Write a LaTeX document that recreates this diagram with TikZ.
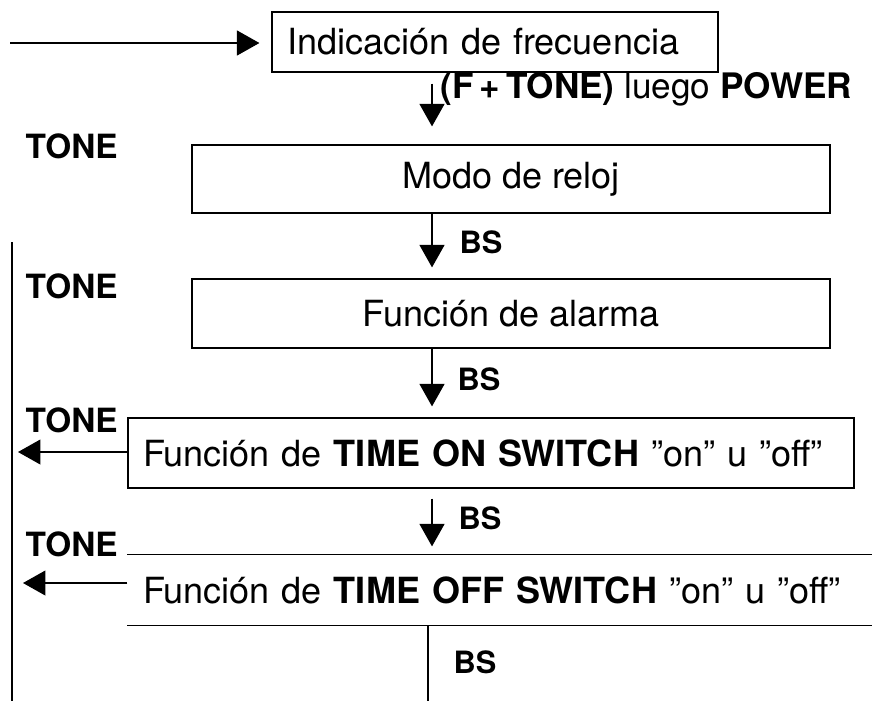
\documentclass[tikz,border=0pt]{standalone}
\usepackage{fontspec}
\setmainfont{TeX Gyre Heros}
\usetikzlibrary{arrows.meta}

\begin{document}
\begin{tikzpicture}[x=0.02cm, y=-0.02cm, line width=0.7pt,
  >={Triangle[length=0.45cm,width=0.5cm]},
  box/.style={draw, inner xsep=0.3cm, font=\fontsize{20.5}{24}\selectfont},
  cond/.style={font=\fontsize{20}{24}\selectfont, inner sep=0pt, anchor=west},
  lbl/.style={font=\bfseries\fontsize{17.5}{20}\selectfont, inner sep=0pt, anchor=west},
  tone/.style={font=\bfseries\fontsize{19}{22}\selectfont, inner sep=0pt, anchor=west}]
\useasboundingbox (0,0) rectangle (872,701);
% boxes
\node[box, text width=8.32cm, align=left, minimum height=1.2cm] (freq) at (495,42) {Indicación de frecuencia};
\node[box, minimum width=12.76cm, minimum height=1.36cm] (clock) at (511,179) {Modo de reloj};
\node[box, minimum width=12.76cm, minimum height=1.38cm] (alarm) at (511,313.5) {Función de alarma};
\node[box, text width=13.92cm, align=left, minimum height=1.4cm] (on) at (491,453) {Función de \textbf{TIME ON SWITCH} ”on” u ”off”};
\node[box, draw=none, text width=14.28cm, align=left, minimum height=1.4cm] (off) at (500,590) {Función de \textbf{TIME OFF SWITCH} ”on” u ”off”};
\draw (off.north west) -- (off.north east);
\draw (off.south west) -- (off.south east);
% TONE keys
\node[tone] (tone1) at (25,146) {TONE};
\node[tone] (tone2) at (25,286) {TONE};
\node[tone] (tone3) at (25,420) {TONE};
\node[tone] (tone4) at (25,544) {TONE};
% flow
\coordinate (in) at (10,43);
\coordinate (axis) at (432,0);
\coordinate (end) at (428,701);
\draw[->, shorten >=0.24cm] (in) -- (in -| freq.west);
\draw[->, shorten <=0.22cm, shorten >=0.36cm] (freq.south -| axis) -- node[cond, pos=0.23, xshift=0.16cm] {\textbf{(F\,+\,TONE)} luego \textbf{POWER}} (clock.north -| axis);
\draw[->, shorten >=0.22cm] (clock.south -| axis) -- node[lbl, pos=0.45, xshift=0.54cm] {BS} (alarm.north -| axis);
\draw[->, shorten >=0.22cm] (alarm.south -| axis) -- node[lbl, pos=0.44, xshift=0.5cm] {BS} (on.north -| axis);
\draw[->, shorten <=0.2cm, shorten >=0.16cm] (on.south -| axis) -- node[lbl, pos=0.45, xshift=0.52cm] {BS} (off.north -| axis);
\draw (off.south -| end) -- node[lbl, pos=0.49, xshift=0.5cm] {BS} (end);
% back to the top
\coordinate (railtop) at (12,242);
\coordinate (railend) at (12,701);
\coordinate (onout) at (18,452);
\coordinate (offout) at (23,583);
\draw (railtop) -- (railend);
\draw[->] (on.west |- onout) -- (onout);
\draw[->] (off.west |- offout) -- (offout);
\end{tikzpicture}
\end{document}
